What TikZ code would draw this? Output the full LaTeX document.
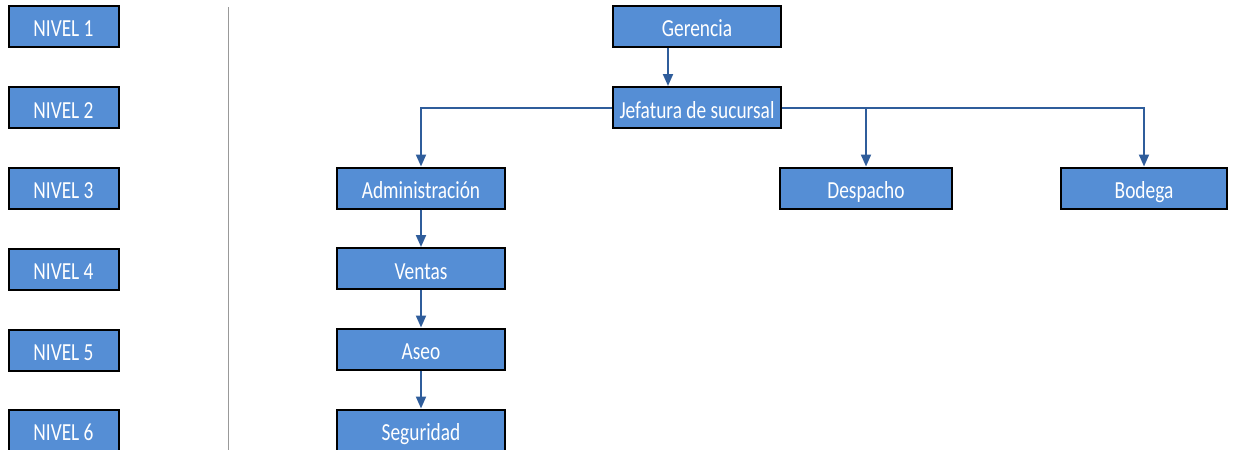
\documentclass[tikz,border=0pt]{standalone}
\usepackage{fontspec}
\setmainfont{Carlito}[FakeStretch=0.79]
\usetikzlibrary{arrows.meta}
\definecolor{boxblue}{RGB}{85,142,213}
\definecolor{linkblue}{RGB}{47,93,155}
\tikzset{
  unit/.style={draw=black, line width=2pt, fill=boxblue, text=white,
    minimum width=168pt, minimum height=41pt, inner sep=0pt,
    text height=21pt, text depth=0pt,
    font=\fontsize{24.5}{24.5}\selectfont},
  level/.style={unit, minimum width=110pt},
  link/.style={draw=linkblue, line width=2pt,
    -{Triangle[width=10pt,length=12pt]}},
}
\begin{document}
\begin{tikzpicture}[x=1pt,y=-1pt]
\useasboundingbox (0,0) rectangle (1235,450);
\clip (0,0) rectangle (1235,450);
% level labels
\node[level] (n1) at (63.5,26) {NIVEL 1};
\node[level] (n2) at (63.5,107.5) {NIVEL 2};
\node[level] (n3) at (63.5,188) {NIVEL 3};
\node[level] (n4) at (63.5,269) {NIVEL 4};
\node[level] (n5) at (63.5,350) {NIVEL 5};
\node[level] (n6) at (63.5,430) {NIVEL 6};
% separator
\coordinate (sepTop) at (228,7);
\coordinate (sepBot) at (228,450);
\draw[gray!80, line width=1pt] (sepTop) -- (sepBot);
% organisation units
\node[unit] (ger) at (697,26) {Gerencia};
\node[unit] (jef) at (697,107.5) {Jefatura de sucursal};
\node[unit] (adm) at (421,188) {Administración};
\node[unit] (ven) at (421,268.5) {Ventas};
\node[unit] (ase) at (421,349) {Aseo};
\node[unit] (seg) at (421,430) {Seguridad};
\node[unit, minimum width=172pt] (des) at (866,188) {Despacho};
\node[unit, minimum width=166pt] (bod) at (1144,188) {Bodega};
% reporting lines
\draw[link] ([xshift=-29pt]ger.south) -- ([xshift=-29pt]jef.north);
\draw[link] (jef.west) -| (adm.north);
\draw[link] (jef.east) -| (des.north);
\draw[link] (jef.east) -| (bod.north);
\draw[link] (adm) -- (ven);
\draw[link] (ven) -- (ase);
\draw[link] (ase) -- (seg);
\end{tikzpicture}
\end{document}
